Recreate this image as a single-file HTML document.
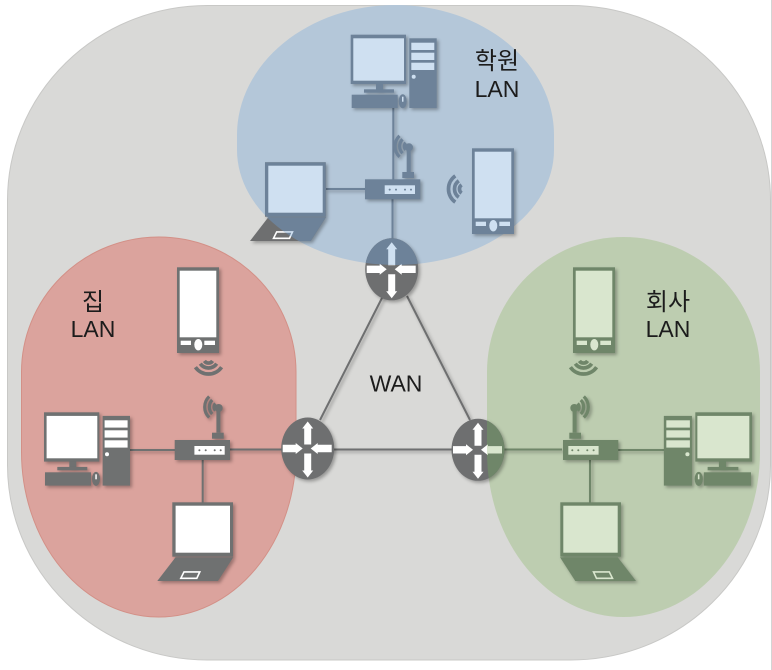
<!DOCTYPE html>
<html lang="ko"><head><meta charset="utf-8"><title>LAN WAN</title>
<style>
html,body{margin:0;padding:0;background:#fff;width:772px;height:670px;overflow:hidden}
svg{display:block;position:absolute;left:0;top:0;filter:blur(.35px)}
.d{fill:var(--d)}.s{fill:var(--s)}
.ps{fill:none;stroke:var(--s);stroke-width:1.6}
.w{fill:none;stroke:var(--d)}
.sh{filter:drop-shadow(2px 2px 1.6px rgba(0,0,0,.3))}
.gray{--d:#6e6f70;--s:#fff}
.red{--d:#6f7171;--s:#fff}
.blue{--d:#6d8299;--s:#cfe0f1}
.green{--d:#6f8669;--s:#d9e6ce}
text{font-family:"Liberation Sans","Noto Sans CJK KR",sans-serif;fill:#1c1c1c;font-size:23px;text-anchor:middle}
text.k{font-size:24px}
</style></head><body>
<svg width="772" height="670" viewBox="0 0 772 670" xmlns="http://www.w3.org/2000/svg">
<defs>
<clipPath id="cb"><path d="M237,135A158.5,130 0 0 1 554,135V150A158.5,115 0 0 1 237,150Z"/></clipPath>
<clipPath id="cg"><path d="M487,372A136.5,135 0 0 1 760,372V452A136.5,165 0 0 1 487,452Z"/></clipPath>
<g id="desktop">
<rect class="d" x="0" y="0" width="55.3" height="49.3"/><rect class="s" x="2.6" y="3.6" width="50.7" height="42.4"/>
<rect class="d" x="25.3" y="49" width="7" height="6"/><rect class="d" x="13.3" y="54.6" width="30" height="3.4"/>
<rect class="d" x="1" y="60" width="46" height="13.3"/>
<ellipse class="d" cx="52" cy="66.6" rx="4" ry="7"/><rect class="s" x="51.3" y="62" width="1.5" height="5"/>
<rect class="d" x="58.6" y="3.6" width="27.4" height="69.7"/>
<rect class="s" x="60.6" y="8" width="23" height="7.3"/><rect class="s" x="60.6" y="18" width="23" height="7.3"/><rect class="s" x="60.6" y="28" width="23" height="7.3"/>
<circle class="s" cx="63" cy="42" r="2"/>
</g>
<g id="laptop">
<rect class="d" x="0" y="0" width="60.7" height="54.4"/><rect class="s" x="3.3" y="3.4" width="54.4" height="47"/>
<polygon class="d" points="3.3,55 61,55 45.7,78.7 -15,78.7"/>
<polygon class="ps" points="11.7,69.6 27.5,69.6 24.5,76 8.5,76"/>
</g>
<g id="mobile">
<rect class="d" x="0" y="0" width="42" height="85.7"/><rect class="s" x="2.7" y="3.4" width="36.6" height="66.6"/>
<rect class="s" x="3.7" y="73.4" width="10.3" height="4.3"/><ellipse class="s" cx="21.3" cy="77.4" rx="4" ry="5.7"/><rect class="s" x="27.3" y="73.4" width="10.7" height="4.3"/>
</g>
<g id="wave">
<path class="w" stroke-width="3.7" d="M-2.9,-4.1A5,5 0 0 0 -2.9,4.1M-5.7,-8.2A10,10 0 0 0 -5.7,8.2M-9.2,-13.1A16,16 0 0 0 -9.2,13.1"/>
</g>
<g id="ap">
<rect class="d" x="0" y="0" width="55.3" height="20"/>
<rect class="s" x="19.7" y="6" width="30.3" height="8.7"/>
<circle class="d" cx="24.7" cy="10.3" r="1"/><circle class="d" cx="31" cy="10.3" r="1"/><circle class="d" cx="40" cy="10.3" r="1"/><circle class="d" cx="46" cy="10.3" r="1"/>
<rect class="d" x="37.3" y="-7.3" width="11.7" height="6"/><rect class="d" x="41.7" y="-29.3" width="4" height="22"/>
<circle class="d" cx="44" cy="-32" r="4"/>
<path class="w" stroke-width="3.2" d="M40.7,-36.5A5,5 0 0 0 40.7,-29.5M37.5,-40A10,10 0 0 0 37.5,-26M34.5,-43.5A14.5,14.5 0 0 0 34.5,-22.5"/>
</g>
<g id="router">
<ellipse class="d" cx="0" cy="0" rx="26.5" ry="31"/>
<polygon class="s" points="0,-27 5.5,-20 3.5,-20 3.5,-4 -3.5,-4 -3.5,-20 -5.5,-20"/>
<polygon class="s" points="0,29 5.5,22 3.5,22 3.5,5 -3.5,5 -3.5,22 -5.5,22"/>
<polygon class="s" points="-25,-3.7 -12,-3.7 -12,-5.5 -5,0 -12,5.5 -12,3.7 -25,3.7"/>
<polygon class="s" points="24,-3.7 10,-3.7 10,-5.5 3,0 10,5.5 10,3.7 24,3.7"/>
</g>
</defs>

<rect x="771" y="0" width="1" height="670" fill="#d4d4d4"/>
<rect x="7.5" y="5.5" width="763" height="654.5" rx="200" ry="195" fill="#d9d9d7" stroke="#c8c8c6" stroke-width="1"/>
<path d="M21.5,372A137.25,135 0 0 1 296,372V452A137.25,165 0 0 1 21.5,452Z" fill="#dba39d" stroke="#d39087" stroke-width="1"/>
<path d="M487,372A136.5,135 0 0 1 760,372V452A136.5,165 0 0 1 487,452Z" fill="#bdcdb0"/>
<path d="M237,135A158.5,130 0 0 1 554,135V150A158.5,115 0 0 1 237,150Z" fill="#b4c7d9"/>

<g fill="none" stroke-width="2">
<g class="sh">
<path stroke="#6e6f70" d="M383,296L320,420M407,296L470,420M230,449.5H487"/>
<path stroke="#6f7171" d="M130,450H175M202.7,460V503"/>
<path stroke="#6f8669" d="M487,449.5H562M590,460V503M618,450H664"/>
<path stroke="#6d8299" d="M393.3,108V180M392.5,199V240M326,189H365"/>
</g>
</g>

<!-- blue -->
<g class="blue sh"><use href="#desktop" transform="translate(350.7,34.7)"/></g>
<g class="gray sh"><use href="#laptop" transform="translate(265,162.3)"/></g>
<g clip-path="url(#cb)"><g class="blue"><use href="#laptop" transform="translate(265,162.3)"/></g></g>
<g class="blue sh"><use href="#ap" transform="translate(365,179.3)"/></g>
<g class="blue sh"><use href="#mobile" transform="translate(472,148.3)"/></g>
<g class="blue"><use href="#wave" transform="translate(464.5,189)"/></g>

<!-- red -->
<g class="red sh"><use href="#desktop" transform="translate(44,412.3)"/></g>
<g class="red sh"><use href="#laptop" transform="translate(172.3,502.3)"/></g>
<g class="red sh"><use href="#ap" transform="translate(174.7,440)"/></g>
<g class="red sh"><use href="#mobile" transform="translate(177,267.3)"/></g>
<g class="red"><use href="#wave" transform="translate(208.5,358) rotate(-90)"/></g>

<!-- green -->
<g class="green sh"><use href="#desktop" transform="translate(752,412.3) scale(-1.025,1)"/></g>
<g class="green sh"><use href="#laptop" transform="translate(621,502.3) scale(-1,1)"/></g>
<g class="green sh"><use href="#ap" transform="translate(618.3,440) scale(-1,1)"/></g>
<g class="green sh"><use href="#mobile" transform="translate(573,267.3)"/></g>
<g class="green"><use href="#wave" transform="translate(583.5,358) rotate(-90)"/></g>

<!-- routers -->
<g class="gray sh"><use href="#router" transform="translate(391.7,269.3)"/></g>
<g clip-path="url(#cb)"><g class="blue"><use href="#router" transform="translate(391.7,269.3)"/></g></g>
<g class="gray sh"><use href="#router" transform="translate(307.7,448.5)"/></g>
<g class="gray sh"><use href="#router" transform="translate(478,449.8)"/></g>
<g clip-path="url(#cg)"><g class="green"><use href="#router" transform="translate(478,449.8)"/></g></g>

<text class="k" x="497" y="69">학원</text><text x="497" y="97">LAN</text>
<text class="k" x="93" y="310">집</text><text x="93" y="337">LAN</text>
<text class="k" x="668" y="310">회사</text><text x="668" y="337">LAN</text>
<text x="396" y="391.5">WAN</text>
</svg>
</body></html>
